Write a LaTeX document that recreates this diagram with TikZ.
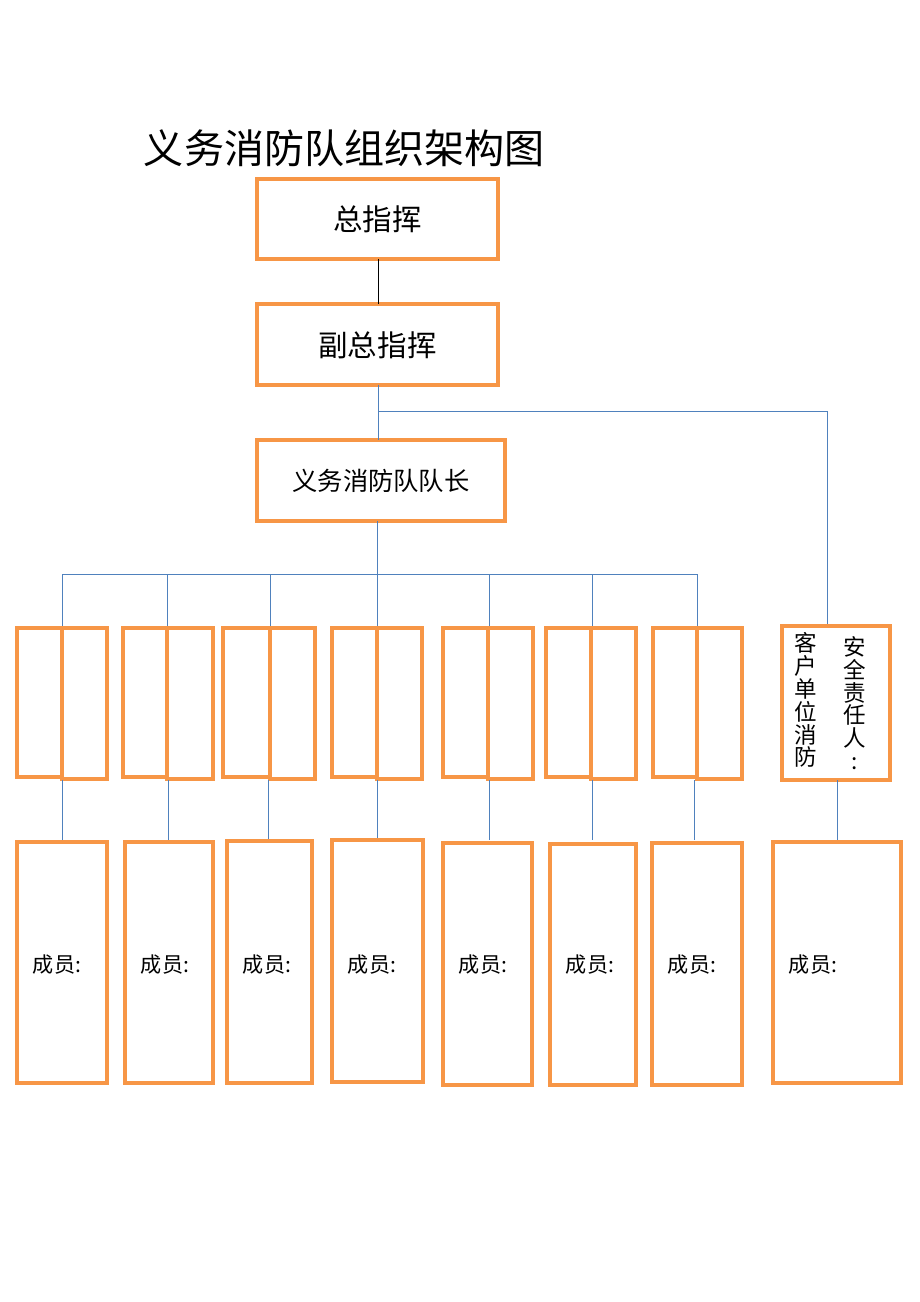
\documentclass[tikz,border=0pt]{standalone}
\usepackage{fontspec}
\setmainfont{Noto Sans CJK SC}
\begin{document}
\begin{tikzpicture}[x=0.025cm,y=-0.025cm,
  ob/.style={draw={rgb,255:red,247;green,150;blue,70}, line width=2.3pt},
  bl/.style={draw={rgb,255:red,79;green,129;blue,189}, line width=0.7pt},
  lbl/.style={font=\fontsize{15}{18}\selectfont},
  vt/.style={anchor=north,align=center,inner sep=0pt,font=\fontsize{16}{16.3}\selectfont}]
\useasboundingbox (0,0) rectangle (920,1302);
\node[anchor=west,font=\fontsize{28.5}{32}\selectfont] (title) at (139,148) {义务消防队组织架构图};
\draw[ob] (257,179) rectangle (498,259); \node[font=\fontsize{21}{24}\selectfont] (zzh) at (377.5,219) {总指挥};
\draw[ob] (257,304) rectangle (498,385); \node[font=\fontsize{21}{24}\selectfont] (fzh) at (377.5,345) {副总指挥};
\draw[ob] (257,440) rectangle (505,521); \node[font=\fontsize{18}{22}\selectfont] (dz) at (381,481) {义务消防队队长};
\draw[black,line width=0.7pt] (378,259) -- (378,304);
\draw[bl] (378,385) -- (378,440);
\draw[bl] (378,411) -- (827,411) -- (827,626);
\draw[bl] (377,521) -- (377,574);
\draw[bl] (62,574) -- (697,574);
\foreach \x in {62,167,270,377,489,592,697} \draw[bl] (\x,574) -- (\x,629);
\foreach \a/\b/\c in {17/62/107,123/167/213,223/270/315,332/377/422,443/488/533,546/591/636,653/697/742}{
  \draw[ob] (\a,628) rectangle (\b,777);
  \draw[ob] (\b,628) rectangle (\c,779);
}
\draw[ob] (782,626) rectangle (890,780);
\node[vt] (aq) at (855,636) {安\\全\\责\\任\\人\\:};
\node[vt] (kh) at (806,632) {客\\户\\单\\位\\消\\防};
\foreach \x in {62,168,268,377,489,592,694,837} \draw[bl] (\x,780) -- (\x,840);
\foreach \a/\t/\b/\d in {17/842/107/1083,125/842/213/1083,227/841/312/1083,332/840/423/1082,443/843/532/1085,550/844/636/1085,652/843/742/1085,773/842/901/1083}{
  \draw[ob] (\a,\t) rectangle (\b,\d);
  \node[lbl,anchor=west] at (\a+11,965) {成员:};
}
\end{tikzpicture}
\end{document}
